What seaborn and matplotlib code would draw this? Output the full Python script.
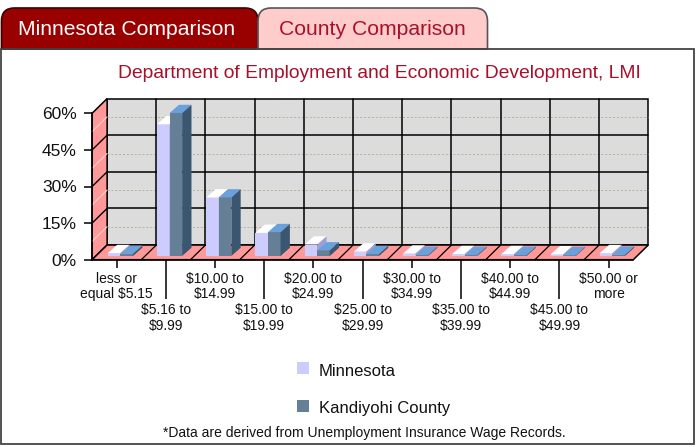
import numpy as np
import pandas as pd
import matplotlib
matplotlib.use("Agg")
import matplotlib.pyplot as plt
import seaborn as sns
from matplotlib.patches import Polygon, Rectangle, PathPatch
from matplotlib.path import Path

# ---------------- data ----------------
categories = ["less or\nequal $5.15", "$5.16 to\n$9.99", "$10.00 to\n$14.99",
              "$15.00 to\n$19.99", "$20.00 to\n$24.99", "$25.00 to\n$29.99",
              "$30.00 to\n$34.99", "$35.00 to\n$39.99", "$40.00 to\n$44.99",
              "$45.00 to\n$49.99", "$50.00 or\nmore"]
minnesota = [1.2, 54.0, 24.0, 9.5, 4.7, 1.8, 1.0, 0.8, 0.8, 0.7, 1.2]
kandiyohi = [0.9, 58.6, 24.0, 9.8, 2.3, 0.8, 0.4, 0.4, 0.4, 0.3, 0.5]
series_names = ["Minnesota", "Kandiyohi County"]
y_ticks = [0, 15, 30, 45, 60]
y_tick_labels = ["0%", "15%", "30%", "45%", "60%"]
title = "Department of Employment and Economic Development, LMI"
tab_labels = ["Minnesota Comparison", "County Comparison"]
footnote = "*Data are derived from Unemployment Insurance Wage Records."

# ---------------- style ----------------
sns.set_theme(style="white")
plt.rcParams['font.family'] = ['Liberation Sans', 'DejaVu Sans']

MN_FRONT, MN_TOP, MN_SIDE = "#ccccff", "#ffffff", "#9f9fd6"
KC_FRONT, KC_TOP, KC_SIDE = "#647f96", "#6aa0dc", "#3a5670"
PINK = "#ff9999"
WALL = "#dcdcdc"
RED_TXT = "#a8102a"

W, H = 698, 447
fig = plt.figure(figsize=(W / 100, H / 100), dpi=100)
fig.patch.set_facecolor("white")

# background / decoration axes in pixel coordinates
bg = fig.add_axes([0, 0, 1, 1], zorder=0)
bg.set_xlim(0, W)
bg.set_ylim(H, 0)
bg.axis("off")


def tab_path(x0, x1, ytop, ybot, r):
    verts = [(x0, ybot), (x0, ytop + r), (x0, ytop), (x0 + r, ytop),
             (x1 - r, ytop), (x1, ytop), (x1, ytop + r), (x1, ybot), (x0, ybot)]
    codes = [Path.MOVETO, Path.LINETO, Path.CURVE3, Path.CURVE3,
             Path.LINETO, Path.CURVE3, Path.CURVE3, Path.LINETO, Path.CLOSEPOLY]
    return Path(verts, codes)


bg.add_patch(PathPatch(tab_path(1.5, 258, 8, 49, 13), fc="#990000", ec="#3a0000", lw=1.2))
bg.add_patch(PathPatch(tab_path(258, 487.5, 8, 49, 13), fc="#ffcccc", ec="#555555", lw=1.2))
bg.text(126.5, 29.5, tab_labels[0], ha="center", va="center", fontsize=15.2, color="white")
bg.text(372.5, 29.5, tab_labels[1], ha="center", va="center", fontsize=15.2, color=RED_TXT)

# outer box
bg.add_patch(Rectangle((1, 48.5), 692.5, 395.5, fill=False, ec="#444444", lw=1.3))

bg.text(379, 73, title, ha="center", va="center", fontsize=13.9, color=RED_TXT)

# legend
bg.add_patch(Rectangle((297, 362), 12, 12, fc=MN_FRONT, ec="none"))
bg.add_patch(Rectangle((297, 400), 12, 12, fc=KC_FRONT, ec="none"))
bg.text(319, 371, series_names[0], ha="left", va="center", fontsize=12, color="#111111")
bg.text(319, 409, series_names[1], ha="left", va="center", fontsize=12, color="#111111")

bg.text(364.5, 433, footnote, ha="center", va="center", fontsize=10, color="#111111")

# ---------------- main chart ----------------
ax = fig.add_axes([92.1 / W, 1 - 259.7 / H, 541.2 / W, 146.4 / H], zorder=2)
ax.patch.set_alpha(0)

n = len(categories)
df = pd.DataFrame({
    "category": categories * 2,
    "series": [series_names[0]] * n + [series_names[1]] * n,
    "value": minnesota + kandiyohi,
})
sns.barplot(data=df, x="category", y="value", hue="series",
            palette=[MN_FRONT, KC_FRONT], width=0.51, dodge=True,
            saturation=1, linewidth=0, ax=ax, legend=False, errorbar=None)

bars = list(ax.patches)

ax.set_xlim(-0.5, n - 0.5)
ax.set_ylim(0, 60)

DX, DY = 15 / 49.2, 14.7 / (146.4 / 60)       # wall depth in data units
SX, SY = 0.075, 1.5                              # bar placement inside depth
BDX, BDY = 0.19, 3.4                             # bar depth

# back wall
ax.add_patch(Rectangle((-0.5 + DX, DY), n, 60, fc=WALL, ec="black", lw=1.1,
                       zorder=0.5, clip_on=False))
for t in [15, 30, 45]:
    ax.plot([-0.5 + DX, n - 0.5 + DX], [t + DY, t + DY], color="black", lw=1.1,
            zorder=0.6, clip_on=False)
for t in [7.5, 22.5, 37.5, 52.5]:
    ax.plot([-0.5 + DX, n - 0.5 + DX], [t + DY, t + DY], color="#b8ae98", lw=0.7,
            ls=(0, (2, 2)), zorder=0.6, clip_on=False)
for b in np.arange(0.5, n - 0.5, 1.0):
    ax.plot([b + DX, b + DX], [DY, 60 + DY], color="black", lw=1.1, zorder=0.6,
            clip_on=False)

# left wall
ax.add_patch(Polygon([(-0.5, 0), (-0.5, 60), (-0.5 + DX, 60 + DY), (-0.5 + DX, DY)],
                     closed=True, fc=PINK, ec="black", lw=1.1, zorder=0.7, clip_on=False))
for t in [15, 30, 45]:
    ax.plot([-0.5, -0.5 + DX], [t, t + DY], color="black", lw=1.0, zorder=0.8, clip_on=False)
for t in [7.5, 22.5, 37.5, 52.5]:
    ax.plot([-0.5, -0.5 + DX], [t, t + DY], color="#ffd0d0", lw=0.8, zorder=0.8, clip_on=False)

# floor
ax.add_patch(Polygon([(-0.5, 0), (n - 0.5, 0), (n - 0.5 + DX, DY), (-0.5 + DX, DY)],
                     closed=True, fc=PINK, ec="black", lw=1.1, zorder=0.9, clip_on=False))
for b in np.arange(0.5, n - 0.5, 1.0):
    ax.plot([b, b + DX], [0, DY], color="black", lw=0.9, zorder=1.0, clip_on=False)

# bars -> pseudo 3D
for p in bars:
    fc = matplotlib.colors.to_hex(p.get_facecolor())
    is_mn = fc.lower() == MN_FRONT
    top_c, side_c = (MN_TOP, MN_SIDE) if is_mn else (KC_TOP, KC_SIDE)
    z = 3 if is_mn else 4
    x = p.get_x() + SX
    w = p.get_width()
    h = p.get_height()
    y = SY
    p.set_x(x)
    p.set_y(y)
    p.set_zorder(z)
    p.set_clip_on(False)
    ax.add_patch(Polygon([(x, y + h), (x + w, y + h), (x + w + BDX, y + h + BDY),
                          (x + BDX, y + h + BDY)], closed=True, fc=top_c, ec="none",
                         zorder=z + 0.1, clip_on=False))
    ax.add_patch(Polygon([(x + w, y), (x + w, y + h), (x + w + BDX, y + h + BDY),
                          (x + w + BDX, y + BDY)], closed=True, fc=side_c, ec="none",
                         zorder=z + 0.1, clip_on=False))

# axes styling
for s in ["top", "right"]:
    ax.spines[s].set_visible(False)
ax.spines["left"].set_color("black")
ax.spines["bottom"].set_color("black")
ax.spines["left"].set_linewidth(1.1)
ax.spines["bottom"].set_linewidth(1.1)
ax.spines["left"].set_zorder(5)
ax.spines["bottom"].set_zorder(5)
ax.set_yticks(y_ticks)
ax.set_yticklabels(y_tick_labels, fontsize=12.5, color="#111111")
ax.tick_params(axis="y", length=6, width=1.1, color="black", direction="out", pad=5, left=True)
ax.set_xticks(range(n))
ax.set_xticklabels([""] * n)
ax.tick_params(axis="x", length=6, width=1.1, color="black", direction="out", bottom=True)
for i, tk in enumerate(ax.xaxis.get_major_ticks()):
    if i % 2 == 1:
        tk.tick1line.set_markersize(28)
for i, lab in enumerate(categories):
    off = -8.5 if i % 2 == 0 else -31.5
    ax.annotate(lab, xy=(i, 0), xytext=(0, off), textcoords="offset points",
                ha="center", va="top", fontsize=10, color="#111111", linespacing=1.12,
                annotation_clip=False)
ax.set_xlabel("")
ax.set_ylabel("")

fig.savefig("out.png", dpi=100)
